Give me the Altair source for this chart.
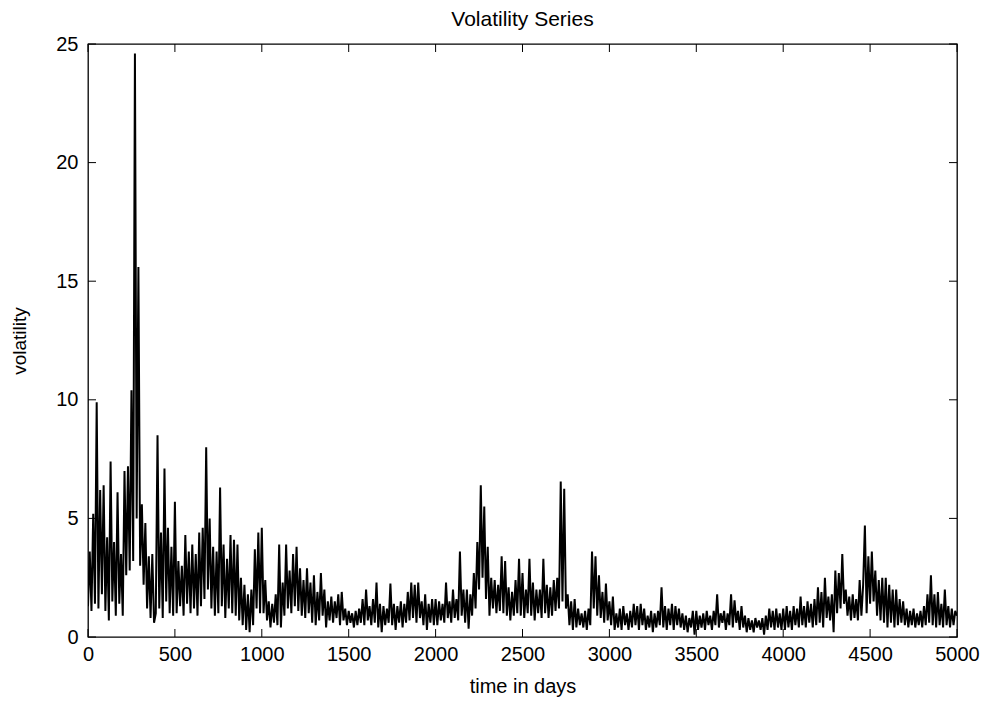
import altair as alt
import pandas as pd

# Volatility readings, one every 10 days (days 0..4990 in ten blocks of 500 days, plus day 5000)
seg_0000 = [1.3, 3.6, 1.1, 5.2, 1.4, 9.9, 1.2, 6.2, 1.8, 6.4,
            1.1, 4.2, 0.7, 7.4, 1.5, 4.0, 0.9, 6.1, 1.4, 3.5,
            0.9, 7.0, 2.6, 7.2, 2.8, 10.4, 3.2, 24.6, 5.0, 15.6,
            3.0, 5.6, 2.2, 4.8, 1.2, 3.4, 0.8, 3.5, 0.6, 1.0,
            8.5, 1.2, 4.4, 0.8, 7.1, 1.5, 4.6, 1.0, 3.8, 0.9]
seg_0500 = [5.7, 1.0, 3.2, 1.3, 3.0, 0.9, 4.3, 1.4, 3.6, 1.0,
            3.9, 1.2, 3.5, 0.9, 4.4, 1.3, 4.6, 1.6, 8.0, 2.0,
            5.0, 1.2, 3.8, 0.9, 3.6, 1.0, 6.3, 1.3, 3.9, 0.8,
            3.3, 1.2, 4.3, 1.0, 4.1, 0.9, 3.9, 0.7, 2.5, 0.5,
            2.2, 0.3, 1.8, 0.2, 2.0, 0.5, 3.7, 1.2, 4.4, 1.0]
seg_1000 = [4.6, 1.0, 2.4, 0.7, 1.5, 0.4, 1.4, 0.6, 1.8, 0.5,
            3.9, 0.4, 2.3, 0.9, 3.9, 1.2, 2.8, 1.0, 3.5, 1.3,
            3.8, 1.1, 2.9, 0.9, 2.4, 0.8, 2.9, 1.0, 2.3, 0.6,
            2.6, 0.5, 1.9, 0.7, 2.7, 0.9, 2.0, 0.4, 1.5, 0.7,
            1.7, 0.6, 1.5, 0.8, 1.8, 0.5, 1.9, 0.7, 1.2, 0.5]
seg_1500 = [1.1, 0.6, 1.0, 0.4, 1.1, 0.5, 1.2, 0.6, 1.6, 0.5,
            2.0, 0.7, 1.3, 0.5, 1.6, 0.6, 2.3, 0.4, 1.4, 0.2,
            1.3, 0.5, 1.2, 0.6, 2.25, 0.5, 1.4, 0.3, 1.3, 0.6,
            1.5, 0.4, 1.4, 0.6, 1.9, 0.7, 2.3, 0.8, 2.2, 0.6,
            2.3, 0.8, 1.5, 0.5, 1.8, 0.3, 1.4, 0.6, 1.6, 0.5]
seg_2000 = [1.6, 0.5, 1.5, 0.7, 1.4, 0.6, 2.3, 0.8, 1.5, 0.6,
            2.0, 0.8, 1.6, 0.7, 3.6, 0.9, 2.0, 0.6, 2.0, 0.35,
            1.8, 0.9, 2.7, 1.2, 4.0, 2.0, 6.4, 2.5, 5.5, 1.6,
            3.8, 0.9, 2.5, 1.2, 2.4, 1.0, 2.2, 1.1, 3.4, 1.0,
            3.2, 0.9, 2.1, 0.7, 1.9, 0.9, 2.4, 1.0, 3.3, 0.9]
seg_2500 = [2.7, 0.8, 2.0, 1.0, 3.3, 0.9, 2.3, 0.7, 2.0, 1.0,
            2.0, 0.8, 3.3, 1.0, 2.2, 0.8, 2.1, 0.9, 2.4, 1.1,
            2.5, 1.2, 6.55, 1.5, 6.25, 1.2, 1.8, 0.5, 1.5, 0.3,
            1.6, 0.4, 1.2, 0.5, 1.0, 0.4, 1.1, 0.3, 1.2, 0.5,
            3.6, 1.2, 3.4, 0.9, 2.6, 0.8, 1.9, 0.6, 2.25, 0.7]
seg_3000 = [1.5, 0.5, 1.7, 0.3, 1.0, 0.4, 1.2, 0.3, 1.3, 0.5,
            1.0, 0.3, 1.1, 0.4, 1.4, 0.5, 1.3, 0.3, 1.4, 0.5,
            1.2, 0.3, 0.9, 0.4, 1.1, 0.2, 1.0, 0.4, 1.1, 0.5,
            2.1, 0.4, 1.3, 0.3, 1.2, 0.5, 1.4, 0.3, 1.3, 0.5,
            1.2, 0.4, 1.0, 0.3, 0.9, 0.2, 0.8, 0.4, 1.1, 0.1]
seg_3500 = [1.1, 0.3, 0.9, 0.4, 1.0, 0.3, 1.1, 0.5, 0.9, 0.3,
            1.1, 0.5, 1.8, 0.4, 1.0, 0.6, 1.1, 0.3, 1.0, 0.5,
            1.8, 0.4, 1.55, 0.6, 1.1, 0.3, 1.3, 0.4, 0.9, 0.2,
            0.8, 0.3, 0.7, 0.2, 0.8, 0.4, 0.7, 0.3, 0.8, 0.1,
            0.9, 0.3, 1.2, 0.4, 1.1, 0.3, 1.2, 0.4, 1.0, 0.3]
seg_4000 = [1.2, 0.3, 1.3, 0.4, 1.1, 0.3, 1.3, 0.5, 1.2, 0.4,
            1.7, 0.5, 1.3, 0.4, 1.5, 0.6, 1.4, 0.4, 1.6, 0.5,
            2.1, 0.6, 1.9, 0.4, 2.5, 0.8, 1.7, 0.7, 1.8, 0.2,
            2.8, 1.0, 2.7, 1.2, 3.5, 1.4, 2.0, 0.9, 1.7, 0.7,
            1.8, 0.8, 1.6, 0.7, 2.4, 0.9, 2.2, 4.7, 1.0, 3.4]
seg_4500 = [1.4, 3.6, 1.5, 2.8, 0.9, 2.4, 0.7, 2.5, 0.6, 2.5,
            0.4, 2.2, 0.6, 2.0, 0.4, 2.0, 0.5, 1.6, 0.6, 1.5,
            0.5, 1.2, 0.4, 1.1, 0.5, 1.2, 0.4, 1.0, 0.5, 1.1,
            0.4, 1.3, 0.5, 1.8, 0.6, 2.6, 0.5, 1.8, 0.4, 1.9,
            0.5, 1.4, 0.4, 2.0, 0.5, 1.3, 0.4, 1.2, 0.5, 1.1]
seg_5000 = [0.9]

x_ticks = [0, 500, 1000, 1500, 2000, 2500, 3000, 3500, 4000, 4500, 5000]
y_ticks = [0, 5, 10, 15, 20, 25]

values = (seg_0000 + seg_0500 + seg_1000 + seg_1500 + seg_2000 +
          seg_2500 + seg_3000 + seg_3500 + seg_4000 + seg_4500 + seg_5000)
days = [10 * i for i in range(len(values))]
df = pd.DataFrame({"day": days, "vol": values})
xt = pd.DataFrame({"t": x_ticks})
yt = pd.DataFrame({"t": y_ticks})

W, H = 869, 593
FONT = "Liberation Sans"

xscale = alt.Scale(domain=[0, 5000], nice=False, zero=False)
yscale = alt.Scale(domain=[0, 25], nice=False)

line = alt.Chart(df).mark_line(color="black", strokeWidth=2.0, clip=True).encode(
    x=alt.X("day:Q", scale=xscale,
            axis=alt.Axis(values=x_ticks, format="d", title="time in days",
                          tickSize=0, labelPadding=7, domain=False, grid=False,
                          labelFlush=False, labelOverlap=False,
                          titlePadding=12, labelFontSize=20, titleFontSize=20)),
    y=alt.Y("vol:Q", scale=yscale,
            axis=alt.Axis(values=y_ticks, format="d", title="volatility",
                          tickSize=0, labelPadding=10, domain=False, grid=False,
                          labelFlush=False, labelOverlap=False,
                          titlePadding=26, labelFontSize=20, titleFontSize=19)),
)

tick_len = 8
xb = alt.Chart(xt).mark_rule(color="black", strokeWidth=1).encode(
    x=alt.X("t:Q", scale=xscale), y=alt.value(H), y2=alt.value(H - tick_len))
xtop = alt.Chart(xt).mark_rule(color="black", strokeWidth=1).encode(
    x=alt.X("t:Q", scale=xscale), y=alt.value(0), y2=alt.value(tick_len))
yl = alt.Chart(yt).mark_rule(color="black", strokeWidth=1).encode(
    y=alt.Y("t:Q", scale=yscale), x=alt.value(0), x2=alt.value(tick_len))
yr = alt.Chart(yt).mark_rule(color="black", strokeWidth=1).encode(
    y=alt.Y("t:Q", scale=yscale), x=alt.value(W), x2=alt.value(W - tick_len))

chart = alt.layer(line, xb, xtop, yl, yr).properties(
    width=W, height=H,
    title=alt.Title("Volatility Series", fontSize=21, fontWeight="normal",
                    font=FONT, color="black", offset=4),
    autosize=alt.AutoSizeParams(type="none"),
    padding={"left": 88, "top": 44, "right": 32, "bottom": 65},
).configure_view(
    stroke="black", strokeWidth=1.3
).configure_axis(
    labelFont=FONT, titleFont=FONT, labelColor="black", titleColor="black",
    titleFontWeight="normal"
)

chart.save("out.html", embed_options={"renderer": "svg", "actions": False})
